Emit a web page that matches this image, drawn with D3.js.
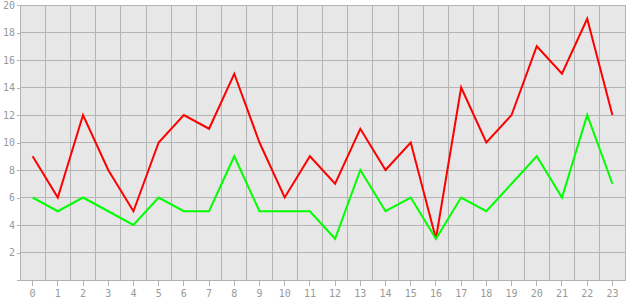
<!DOCTYPE html>
<html>
<head>
<meta charset="utf-8">
<script src="https://cdn.jsdelivr.net/npm/d3@7"></script>
<style>
  body { margin: 0; background: #fff; }
  text { font-family: "DejaVu Sans Mono", monospace; font-size: 10px; fill: #999; }
  line, .domain { shape-rendering: crispEdges; }
</style>
</head>
<body>
<div id="container"></div>
<script>
const categories = d3.range(0, 24).map(String)
const redValues = [9, 6, 12, 8, 5, 10, 12, 11, 15, 10, 6, 9, 7, 11, 8, 10, 3, 14, 10, 12, 17, 15, 19, 12]
const greenValues = [6, 5, 6, 5, 4, 6, 5, 5, 9, 5, 5, 5, 3, 8, 5, 6, 3, 6, 5, 7, 9, 6, 12, 7]
const yTicks = [2, 4, 6, 8, 10, 12, 14, 16, 18, 20]

const w = 630
const h = 300
const plotLeft = 20, plotRight = 625, plotTop = 5, plotBottom = 280
const gridColor = "#b4b4b4"

const svg = d3.select("#container")
  .append("svg")
  .attr("width", w)
  .attr("height", h)

const x = d3.scaleBand()
  .domain(categories)
  .range([plotLeft, plotRight])

const y = d3.scaleLinear()
  .domain([0, 20])
  .range([plotBottom, plotTop])

svg.append("rect")
  .attr("x", plotLeft)
  .attr("y", plotTop)
  .attr("width", plotRight - plotLeft)
  .attr("height", plotBottom - plotTop)
  .attr("fill", "#e7e7e7")

// grid
svg.selectAll(".vgrid")
  .data(categories)
  .enter()
  .append("line")
  .attr("x1", (d) => x(d) + x.bandwidth())
  .attr("x2", (d) => x(d) + x.bandwidth())
  .attr("y1", plotTop)
  .attr("y2", plotBottom)
  .attr("stroke", gridColor)

svg.selectAll(".hgrid")
  .data(yTicks)
  .enter()
  .append("line")
  .attr("x1", plotLeft)
  .attr("x2", plotRight)
  .attr("y1", (d) => y(d))
  .attr("y2", (d) => y(d))
  .attr("stroke", gridColor)

const yAxis = svg.append("g")
  .attr("transform", `translate(${plotLeft},0)`)
  .call(d3.axisLeft(y).tickValues(yTicks).tickSize(3).tickPadding(2))
yAxis.select(".domain").attr("stroke", gridColor)
yAxis.selectAll(".tick line").attr("stroke", gridColor)
yAxis.selectAll("text").attr("fill", null).attr("font-family", null).attr("font-size", null)

const xAxis = svg.append("g")
  .attr("transform", `translate(0,${plotBottom})`)
  .call(d3.axisBottom(x).tickSize(6).tickSizeOuter(0).tickPadding(4))
xAxis.select(".domain").attr("stroke", gridColor)
xAxis.selectAll(".tick line").attr("stroke", gridColor)
xAxis.selectAll("text").attr("fill", null).attr("font-family", null).attr("font-size", null)

const line = d3.line()
  .x((d, i) => x(categories[i]) + x.bandwidth() / 2)
  .y((d) => y(d))

svg.append("path")
  .datum(redValues)
  .attr("d", line)
  .attr("fill", "none")
  .attr("stroke", "#ff0000")
  .attr("stroke-width", 2)

svg.append("path")
  .datum(greenValues)
  .attr("d", line)
  .attr("fill", "none")
  .attr("stroke", "#00ff00")
  .attr("stroke-width", 2)
</script>
</body>
</html>
